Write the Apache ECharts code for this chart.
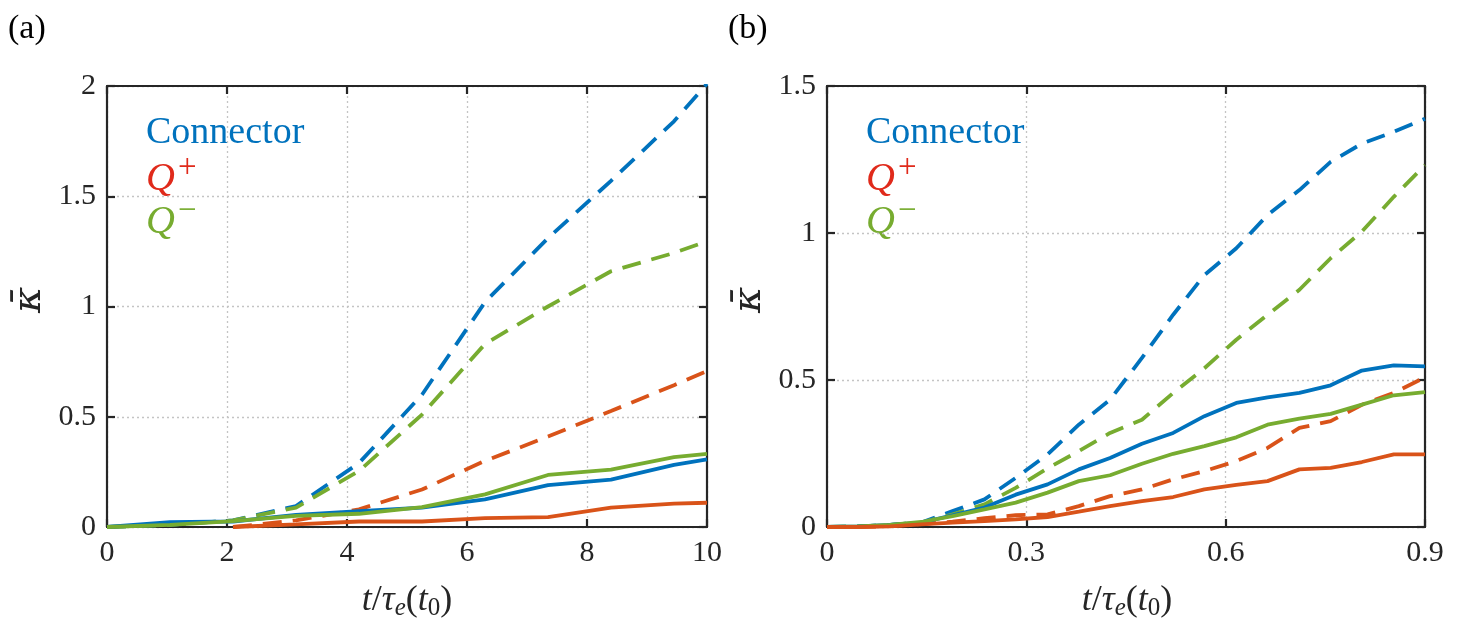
<!DOCTYPE html>
<html>
<head>
<meta charset="utf-8">
<script src="https://cdn.jsdelivr.net/npm/echarts@6/dist/echarts.min.js"></script>
<style>
  html, body { margin: 0; padding: 0; background: #fff; }
  #chart { width: 1458px; height: 624px; }
</style>
</head>
<body>
<div id="chart"></div>
<script>
// panel (a): time samples and kappa values
var tA = [0, 1.05, 2.1, 3.15, 4.2, 5.25, 6.3, 7.35, 8.4, 9.45, 10];
var connSolidA = [0, 0.022, 0.025, 0.055, 0.072, 0.088, 0.125, 0.19, 0.215, 0.282, 0.307];
var qPlusSolidA = [null, null, 0, 0.012, 0.025, 0.025, 0.04, 0.045, 0.088, 0.106, 0.11];
var qMinusSolidA = [0, 0.01, 0.027, 0.05, 0.06, 0.09, 0.148, 0.236, 0.26, 0.317, 0.332];
var connDashA = [0, 0.01, 0.03, 0.095, 0.29, 0.6, 1.02, 1.31, 1.57, 1.84, 2.01];
var qPlusDashA = [null, null, 0, 0.03, 0.08, 0.17, 0.3, 0.41, 0.526, 0.643, 0.707];
var qMinusDashA = [0, 0.01, 0.03, 0.088, 0.254, 0.51, 0.83, 1.0, 1.16, 1.243, 1.296];

// panel (b)
var tB = [0, 0.047, 0.095, 0.142, 0.189, 0.237, 0.284, 0.332, 0.379, 0.426,
          0.474, 0.521, 0.568, 0.616, 0.663, 0.711, 0.758, 0.805, 0.853, 0.9];
var connSolidB = [0, 0.002, 0.007, 0.015, 0.04, 0.066, 0.11, 0.145, 0.196, 0.235,
                  0.283, 0.32, 0.377, 0.422, 0.441, 0.456, 0.482, 0.532, 0.55, 0.546];
var qPlusSolidB = [0, 0, 0.002, 0.009, 0.015, 0.02, 0.026, 0.034, 0.052, 0.071,
                   0.088, 0.102, 0.128, 0.143, 0.156, 0.196, 0.201, 0.221, 0.247, 0.247];
var qMinusSolidB = [0, 0.002, 0.007, 0.017, 0.037, 0.06, 0.083, 0.117, 0.156, 0.176,
                    0.215, 0.249, 0.275, 0.305, 0.348, 0.369, 0.385, 0.416, 0.448, 0.459];
var connDashB = [0, 0.002, 0.007, 0.015, 0.054, 0.094, 0.167, 0.247, 0.348, 0.433,
                 0.575, 0.722, 0.857, 0.948, 1.061, 1.146, 1.242, 1.304, 1.344, 1.389];
var qPlusDashB = [0, 0, 0.003, 0.01, 0.018, 0.03, 0.04, 0.043, 0.071, 0.105,
                  0.128, 0.162, 0.19, 0.224, 0.269, 0.337, 0.36, 0.416, 0.456, 0.509];
var qMinusDashB = [0, 0.002, 0.007, 0.015, 0.043, 0.077, 0.133, 0.2, 0.258, 0.32,
                   0.365, 0.456, 0.54, 0.637, 0.722, 0.807, 0.914, 1.005, 1.123, 1.231];

var ticksAX = { min: 0, max: 10, interval: 2 };
var ticksAY = { min: 0, max: 2, interval: 0.5 };
var ticksBX = { min: 0, max: 0.9, interval: 0.3 };
var ticksBY = { min: 0, max: 1.5, interval: 0.5 };

var BLUE = '#0072BD', RED = '#D95319', GREEN = '#77AC30';
var FONT = 'Liberation Serif';
var AXC = '#262626';

function pairs(xs, ys) {
  return xs.map(function (x, i) { return [x, ys[i] == null ? '-' : ys[i]]; });
}

function axis(idx, pos, range, labels) {
  return {
    type: 'value', gridIndex: idx, position: pos,
    min: range.min, max: range.max, interval: range.interval,
    axisLine: { show: true, onZero: false, lineStyle: { color: AXC, width: 2.2 } },
    axisTick: { show: true, inside: true, length: 8, lineStyle: { color: AXC, width: 2.2 } },
    axisLabel: { show: labels, color: AXC, fontFamily: FONT, fontSize: 30, margin: 11 },
    splitLine: { show: labels, lineStyle: { type: [2, 3], color: '#c4c4c4', width: 1.3 } }
  };
}

function line(xi, yi, xs, ys, color, dashed) {
  return {
    type: 'line', xAxisIndex: xi, yAxisIndex: yi,
    data: pairs(xs, ys), showSymbol: false, symbol: 'none',
    lineStyle: { color: color, width: 3.8, type: dashed ? [19, 11] : 'solid' },
    animation: false
  };
}

var chart = echarts.init(document.getElementById('chart'), null, { renderer: 'canvas' });

var xLabelRich = {
  i: { fontFamily: FONT, fontStyle: 'italic', fontSize: 36, fill: AXC },
  n: { fontFamily: FONT, fontSize: 36, fill: AXC },
  s: { fontFamily: FONT, fontStyle: 'italic', fontSize: 25, fill: AXC, padding: [15, 0, 0, 0] },
  s0: { fontFamily: FONT, fontSize: 25, fill: AXC, padding: [15, 0, 0, 0] }
};
var xLabelText = '{i|t}{n|/}{i|τ}{s|e}{n|(}{i|t}{s0|0}{n|)}';

function legendText(x, y, txt, color, sup) {
  var rich = {
    c: { fontFamily: FONT, fontSize: 38, fill: color },
    q: { fontFamily: FONT, fontStyle: 'italic', fontSize: 40, fill: color },
    p: { fontFamily: FONT, fontSize: 33, fill: color, padding: [0, 0, 22, 3] }
  };
  var text = sup ? '{q|' + txt + '}{p|' + sup + '}' : '{c|' + txt + '}';
  return { type: 'text', left: x, top: y, style: { text: text, rich: rich, fill: color } };
}

var graphics = [
  { type: 'text', left: 8, top: 12, style: { text: '(a)', font: '34px "Liberation Serif"', fill: '#000' } },
  { type: 'text', left: 728, top: 12, style: { text: '(b)', font: '34px "Liberation Serif"', fill: '#000' } },
  legendText(146, 114, 'Connector', BLUE),
  legendText(146, 152, 'Q', '#E02A1B', '+'),
  legendText(146, 195, 'Q', GREEN, '−'),
  legendText(866, 114, 'Connector', BLUE),
  legendText(866, 152, 'Q', '#E02A1B', '+'),
  legendText(866, 195, 'Q', GREEN, '−'),
  { type: 'text', x: 407, y: 601, style: { text: xLabelText, rich: xLabelRich, align: 'center', verticalAlign: 'middle' } },
  { type: 'text', x: 1127, y: 601, style: { text: xLabelText, rich: xLabelRich, align: 'center', verticalAlign: 'middle' } },
  { type: 'text', x: 30, y: 300, rotation: Math.PI / 2,
    style: { text: 'κ̄', font: 'italic 40px "DejaVu Serif"', fill: AXC, align: 'center', verticalAlign: 'middle' } },
  { type: 'text', x: 750, y: 300, rotation: Math.PI / 2,
    style: { text: 'κ̄', font: 'italic 40px "DejaVu Serif"', fill: AXC, align: 'center', verticalAlign: 'middle' } }
];

chart.setOption({
  backgroundColor: '#ffffff',
  animation: false,
  grid: [
    { left: 107, right: 751, top: 86, bottom: 97 },
    { left: 827, right: 33, top: 86, bottom: 97 }
  ],
  xAxis: [
    axis(0, 'bottom', ticksAX, true),
    axis(0, 'top', ticksAX, false),
    axis(1, 'bottom', ticksBX, true),
    axis(1, 'top', ticksBX, false)
  ],
  yAxis: [
    axis(0, 'left', ticksAY, true),
    axis(0, 'right', ticksAY, false),
    axis(1, 'left', ticksBY, true),
    axis(1, 'right', ticksBY, false)
  ],
  series: [
    line(0, 0, tA, connDashA, BLUE, true),
    line(0, 0, tA, qMinusDashA, GREEN, true),
    line(0, 0, tA, qPlusDashA, RED, true),
    line(0, 0, tA, connSolidA, BLUE, false),
    line(0, 0, tA, qMinusSolidA, GREEN, false),
    line(0, 0, tA, qPlusSolidA, RED, false),
    line(2, 2, tB, connDashB, BLUE, true),
    line(2, 2, tB, qMinusDashB, GREEN, true),
    line(2, 2, tB, qPlusDashB, RED, true),
    line(2, 2, tB, connSolidB, BLUE, false),
    line(2, 2, tB, qMinusSolidB, GREEN, false),
    line(2, 2, tB, qPlusSolidB, RED, false)
  ],
  graphic: graphics
});
</script>
</body>
</html>
